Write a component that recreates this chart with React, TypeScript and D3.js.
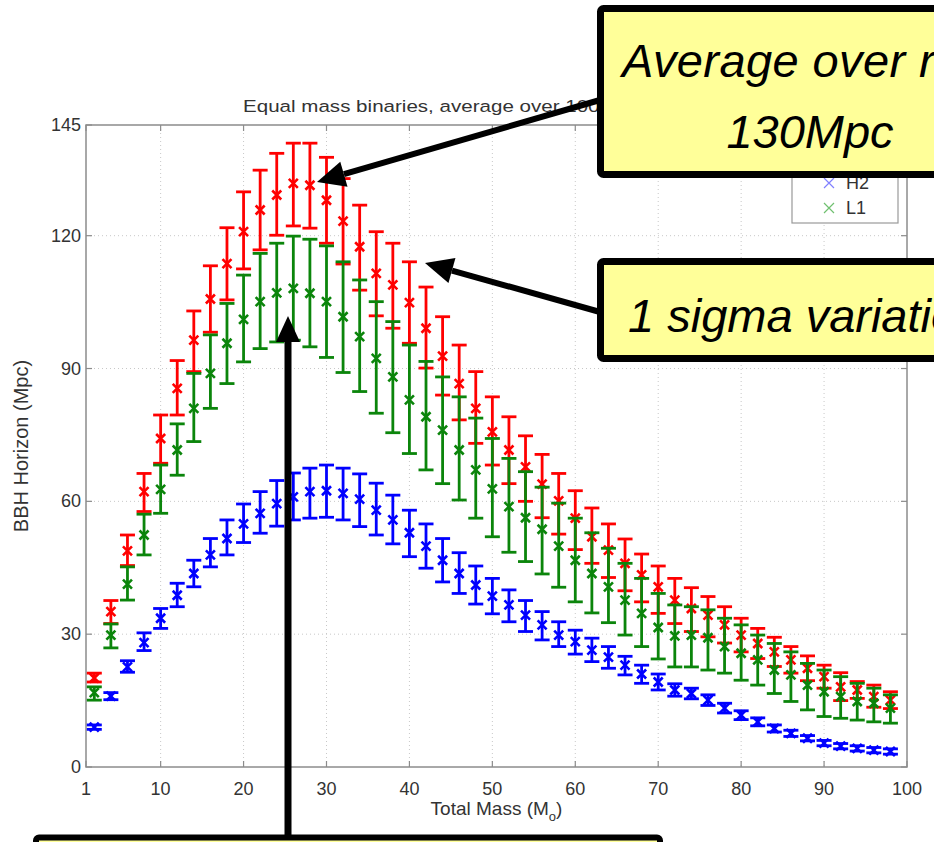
import React from 'react';
import * as d3 from 'd3';

// total mass (solar masses) of each sample
const masses = [2, 4, 6, 8, 10, 12, 14, 16, 18, 20, 22, 24, 26, 28, 30, 32, 34, 36, 38, 40,
  42, 44, 46, 48, 50, 52, 54, 56, 58, 60, 62, 64, 66, 68, 70, 72, 74, 76, 78, 80,
  82, 84, 86, 88, 90, 92, 94, 96, 98];

// H1 (red)
const h1Mean = [20.1, 35.1, 48.8, 62.2, 74.2, 85.5, 96.4, 105.7, 113.7, 120.9,
  125.8, 129.2, 131.8, 131.4, 128.0, 123.3, 117.5, 111.5, 108.9, 104.9,
  99.1, 92.8, 86.6, 81.0, 75.7, 71.6, 67.8, 63.9, 60.1, 56.2,
  52.0, 49.0, 46.0, 43.4, 40.7, 37.7, 35.8, 34.3, 32.1, 29.8,
  27.9, 26.0, 24.2, 22.3, 20.4, 18.1, 17.4, 15.9, 15.1];
const h1Hi = [21.2, 37.6, 52.4, 66.3, 79.5, 91.8, 103.0, 113.2, 121.8, 129.9,
  134.8, 138.6, 140.9, 140.9, 137.7, 132.9, 126.9, 120.9, 118.3, 114.1,
  108.4, 101.7, 95.3, 89.3, 83.6, 79.1, 74.8, 70.6, 66.3, 62.4,
  58.5, 54.9, 51.5, 48.1, 45.4, 42.6, 40.5, 38.5, 36.2, 33.6,
  31.3, 29.3, 27.2, 25.1, 23.0, 21.3, 19.3, 18.5, 17.0];
const h1Lo = [19.2, 32.4, 45.5, 57.7, 68.6, 79.5, 89.3, 98.2, 105.5, 112.5,
  116.8, 120.1, 122.2, 121.7, 118.3, 113.6, 107.7, 101.9, 99.1, 95.7,
  90.1, 84.0, 78.4, 73.1, 68.2, 64.0, 60.0, 56.3, 52.6, 49.1,
  46.0, 42.8, 39.8, 37.3, 34.7, 32.4, 30.6, 29.4, 28.0, 26.0,
  24.5, 22.7, 21.2, 19.5, 17.8, 15.0, 15.5, 13.5, 13.2];

// H2 (blue)
const h2Mean = [9.0, 16.0, 22.6, 28.1, 33.6, 38.8, 43.7, 47.9, 51.6, 54.9,
  57.3, 59.5, 61.0, 62.2, 62.4, 61.8, 60.5, 58.0, 55.8, 52.9,
  49.9, 46.7, 43.7, 41.1, 38.6, 36.6, 34.3, 32.1, 29.8, 28.3,
  26.4, 24.8, 23.0, 21.0, 19.2, 17.4, 16.6, 15.1, 13.3, 11.7,
  10.2, 8.7, 7.6, 6.5, 5.4, 4.7, 4.2, 3.8, 3.5];
const h2Hi = [9.5, 16.8, 24.0, 30.3, 35.8, 41.5, 46.7, 51.6, 55.8, 59.4,
  62.2, 64.7, 66.4, 67.5, 68.2, 67.5, 66.2, 64.1, 61.4, 58.0,
  54.9, 51.6, 48.4, 45.4, 42.6, 40.0, 37.6, 35.1, 32.8, 30.9,
  29.1, 27.2, 25.0, 23.0, 21.0, 18.8, 17.8, 16.3, 14.4, 12.7,
  11.1, 9.5, 8.3, 7.1, 6.0, 5.3, 4.8, 4.4, 4.1];
const h2Lo = [8.5, 15.2, 21.4, 26.3, 31.3, 36.2, 40.7, 45.2, 47.9, 50.7,
  52.8, 54.4, 55.8, 56.2, 56.4, 55.8, 54.3, 52.4, 50.4, 47.5,
  44.9, 41.8, 39.2, 36.8, 34.6, 32.8, 30.6, 28.7, 27.2, 25.5,
  23.8, 22.3, 20.8, 18.9, 17.4, 16.0, 15.4, 13.9, 12.2, 10.7,
  9.3, 7.9, 6.9, 5.9, 4.8, 4.1, 3.6, 3.2, 2.9];

// L1 (green)
const l1Mean = [16.8, 29.8, 41.3, 52.4, 62.7, 71.6, 81.0, 88.9, 95.7, 101.1,
  105.1, 107.1, 108.1, 107.0, 105.1, 101.7, 97.2, 92.3, 88.1, 82.9,
  79.1, 76.1, 71.6, 67.1, 62.8, 58.8, 56.3, 53.7, 49.9, 46.7,
  43.7, 40.7, 37.7, 34.7, 31.5, 29.6, 29.8, 29.2, 27.2, 25.7,
  24.2, 21.9, 20.8, 18.5, 17.0, 15.9, 14.8, 14.4, 13.3];
const l1Hi = [18.1, 32.3, 45.2, 57.1, 68.2, 77.5, 88.9, 97.6, 104.7, 111.1,
  116.0, 118.3, 119.9, 119.2, 117.7, 114.1, 110.0, 105.1, 100.6, 95.3,
  91.6, 88.1, 83.6, 78.8, 74.2, 69.7, 66.7, 63.2, 59.6, 56.2,
  52.9, 49.4, 46.0, 42.6, 39.2, 36.6, 36.2, 35.5, 33.6, 32.1,
  29.8, 27.9, 26.0, 23.4, 21.9, 20.4, 18.9, 17.8, 16.3];
const l1Lo = [15.1, 26.9, 37.7, 47.9, 57.3, 65.9, 73.5, 81.0, 86.6, 91.5,
  94.5, 96.0, 96.4, 94.9, 92.5, 89.1, 84.8, 79.9, 75.5, 70.8,
  67.1, 64.0, 60.3, 56.2, 52.0, 48.5, 46.4, 43.6, 40.6, 37.3,
  34.8, 32.6, 29.8, 27.2, 24.4, 22.6, 22.6, 21.9, 21.2, 19.6,
  18.5, 16.6, 14.8, 12.9, 11.4, 11.0, 10.6, 10.2, 9.9];

const xTicks = [1, 10, 20, 30, 40, 50, 60, 70, 80, 90, 100];
const yTicks = [0, 30, 60, 90, 120, 145];

const W = 934;
const H = 842;
const font = '"Liberation Sans", Arial, Helvetica, sans-serif';

const x = d3.scaleLinear().domain([1, 100]).range([86, 907]);
const y = d3.scaleLinear().domain([0, 145]).range([767, 125]);

// draw order follows matlab: red, blue, then green on top
const series = [
  { name: 'H1', color: '#ff0000', mean: h1Mean, lo: h1Lo, hi: h1Hi },
  { name: 'H2', color: '#0000ff', mean: h2Mean, lo: h2Lo, hi: h2Hi },
  { name: 'L1', color: '#0b850b', mean: l1Mean, lo: l1Lo, hi: l1Hi },
];
const legendColors = { H1: '#ff8080', H2: '#8080ff', L1: '#70c070' };

function ErrorSeries({ s }) {
  const cap = 7.5;
  const m = 4.5;
  return (
    <g stroke={s.color} fill="none">
      {masses.map((mass, i) => {
        const cx = x(mass);
        const yt = y(s.hi[i]);
        const yb = y(s.lo[i]);
        const cy = y(s.mean[i]);
        return (
          <g key={mass}>
            <line x1={cx} x2={cx} y1={yt} y2={yb} strokeWidth={2.8} />
            <line x1={cx - cap} x2={cx + cap} y1={yt} y2={yt} strokeWidth={2.8} />
            <line x1={cx - cap} x2={cx + cap} y1={yb} y2={yb} strokeWidth={2.8} />
            <path d={`M${cx - m},${cy - m}L${cx + m},${cy + m}M${cx - m},${cy + m}L${cx + m},${cy - m}`} strokeWidth={2.6} />
          </g>
        );
      })}
    </g>
  );
}

function Arrow({ x1, y1, x2, y2, w = 6, len = 28, half = 13 }) {
  const a = Math.atan2(y2 - y1, x2 - x1);
  const bx = x2 - len * Math.cos(a);
  const by = y2 - len * Math.sin(a);
  const px = -Math.sin(a) * half;
  const py = Math.cos(a) * half;
  return (
    <g>
      <line x1={x1} y1={y1} x2={bx} y2={by} stroke="#000" strokeWidth={w} />
      <polygon points={`${x2},${y2} ${bx + px},${by + py} ${bx - px},${by - py}`} fill="#000" />
    </g>
  );
}

export default function App() {
  const [x0, x1] = x.range();
  const [y0, y1] = y.range();
  return (
    <svg width={W} height={H} style={{ position: 'absolute', left: 0, top: 0, background: '#fff' }} fontFamily={font}>
      <rect width={W} height={H} fill="#fff" />

      {/* grid */}
      <g stroke="#c8c8c8" strokeWidth={1} strokeDasharray="1,3">
        {xTicks.filter(t => t > 1 && t < 100).map(t => (
          <line key={t} x1={x(t)} x2={x(t)} y1={y1} y2={y0} />
        ))}
        {yTicks.filter(t => t > 0 && t < 145).map(t => (
          <line key={t} x1={x0} x2={x1} y1={y(t)} y2={y(t)} />
        ))}
      </g>

      {/* frame + ticks */}
      <rect x={x0} y={y1} width={x1 - x0} height={y0 - y1} fill="none" stroke="#8c8c8c" strokeWidth={1.5} />
      <g stroke="#8c8c8c" strokeWidth={1.2}>
        {xTicks.map(t => (
          <g key={t}>
            <line x1={x(t)} x2={x(t)} y1={y0} y2={y0 - 6} />
            <line x1={x(t)} x2={x(t)} y1={y1} y2={y1 + 6} />
          </g>
        ))}
        {yTicks.map(t => (
          <g key={t}>
            <line x1={x0} x2={x0 + 6} y1={y(t)} y2={y(t)} />
            <line x1={x1} x2={x1 - 6} y1={y(t)} y2={y(t)} />
          </g>
        ))}
      </g>
      <g fill="#333" fontSize={18}>
        {xTicks.map(t => (
          <text key={t} x={x(t)} y={795} textAnchor="middle">{t}</text>
        ))}
        {yTicks.map(t => (
          <text key={t} x={81} y={y(t) + 6} textAnchor="end">{t}</text>
        ))}
      </g>
      <text x={(x0 + x1) / 2} y={815} textAnchor="middle" fontSize={19} fill="#333">
        Total Mass (M<tspan dy={6} fontSize={13}>o</tspan><tspan dy={-6}>)</tspan>
      </text>
      <text transform={`translate(28,${(y0 + y1) / 2}) rotate(-90)`} textAnchor="middle" fontSize={20} fill="#333">
        BBH Horizon (Mpc)
      </text>
      <text transform="translate(243,112) scale(1.21,1)" fontSize={17} fill="#333">
        Equal mass binaries, average over 1000 sky positions
      </text>

      {series.map(s => <ErrorSeries key={s.name} s={s} />)}

      {/* legend */}
      <rect x={792} y={138} width={106} height={85} fill="#fff" stroke="#999" strokeWidth={1.2} />
      {series.map((s, i) => {
        const ly = 158 + i * 25;
        return (
          <g key={s.name}>
            <path d={`M824,${ly - 5}L834,${ly + 5}M824,${ly + 5}L834,${ly - 5}`} stroke={legendColors[s.name]} strokeWidth={1.2} />
            <text x={846} y={ly + 6} fontSize={18} fill="#333">{s.name}</text>
          </g>
        );
      })}

      {/* annotations */}
      <Arrow x1={600} y1={100} x2={317} y2={182} />
      <Arrow x1={600} y1={312} x2={425} y2={263} />
      <Arrow x1={288} y1={840} x2={288} y2={316} w={7} len={26} half={12} />

      <rect x={600.5} y={8.5} width={420} height={166} rx={3} fill="#ffff99" stroke="#000" strokeWidth={7} />
      <text x={622} y={77} fontSize={47} fontStyle="italic" letterSpacing={0.4} fill="#000">Average over runs ~</text>
      <text x={810} y={148} fontSize={47} fontStyle="italic" fill="#000" textAnchor="middle">130Mpc</text>

      <rect x={600.5} y={261.5} width={420} height={97} rx={3} fill="#ffff99" stroke="#000" strokeWidth={7} />
      <text x={628} y={332} fontSize={47} fontStyle="italic" fill="#000">1 sigma variation</text>

      <rect x={36} y={837.5} width={624} height={60} rx={3} fill="#ffff99" stroke="#000" strokeWidth={6} />
    </svg>
  );
}
